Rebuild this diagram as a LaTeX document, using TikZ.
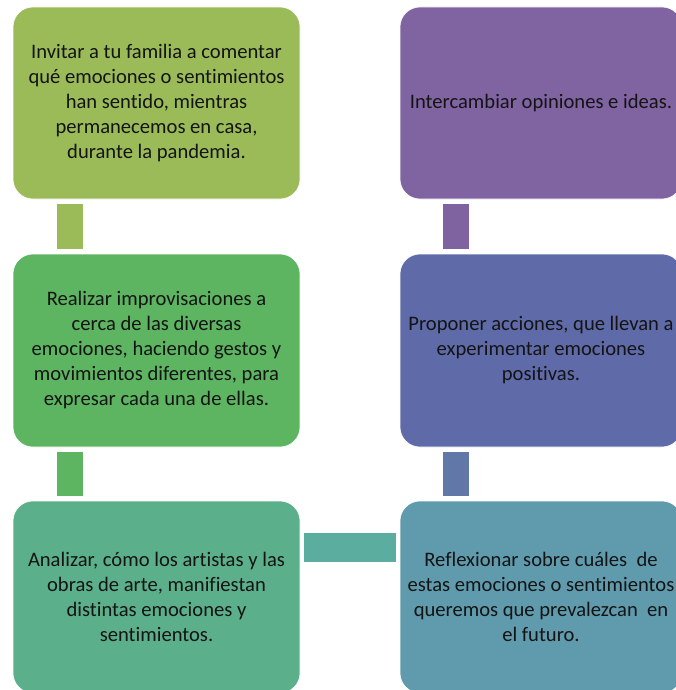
\documentclass[tikz,border=0pt]{standalone}
\usepackage{fontspec}
\setmainfont[Ligatures=CommonOff]{Carlito}
\definecolor{cA}{HTML}{9BBB59}
\definecolor{cB}{HTML}{5DB562}
\definecolor{cC}{HTML}{5BAF8A}
\definecolor{cH}{HTML}{5BADA0}
\definecolor{cD}{HTML}{8064A2}
\definecolor{cDc}{HTML}{7F63A0}
\definecolor{cE}{HTML}{5F6BA8}
\definecolor{cEc}{HTML}{6077A8}
\definecolor{cF}{HTML}{5F9BAD}
\definecolor{txt}{HTML}{141414}
\begin{document}
\begin{tikzpicture}[x=1pt,y=-1pt,
  box/.style={rectangle, rounded corners=20pt, draw=white, line width=0.6pt, align=center,
    minimum width=287pt, inner sep=0pt, text=txt,
    font=\fontsize{20.6}{25}\selectfont},
  rbox/.style={box, minimum width=282pt},
  conn/.style={line width=26pt, shorten <=5pt, shorten >=5pt},
  hconn/.style={line width=29pt, shorten <=4pt, shorten >=4pt}]
\useasboundingbox (0,0) rectangle (676,690);
\begin{scope}
\clip (0,0) rectangle (676,690);
\node[box, fill=cA, minimum height=192pt] (b1) at (156.5,103) {Invitar a tu familia a comentar\\qué emociones o sentimientos\\han sentido, mientras\\permanecemos en casa,\\durante la pandemia.};
\node[box, fill=cB, minimum height=193pt] (b2) at (156.5,350.5) {Realizar improvisaciones a\\cerca de las diversas\\emociones, haciendo gestos y\\movimientos diferentes, para\\expresar cada una de ellas.};
\node[box, fill=cC, minimum height=192pt] (b3) at (156.5,597) {Analizar, cómo los artistas y las\\obras de arte, manifiestan\\distintas emociones y\\sentimientos.};
\node[rbox, fill=cD, minimum height=192pt] (b4) at (541,103) {Intercambiar opiniones e ideas.};
\node[rbox, fill=cE, minimum height=193pt] (b5) at (541,350.5) {Proponer acciones, que llevan a\\experimentar emociones\\positivas.};
\node[rbox, fill=cF, minimum height=192pt] (b6) at (541,597) {Reflexionar sobre cuáles\ \ de\\estas emociones o sentimientos\\queremos que prevalezcan\ \ en\\el futuro.};
\draw[conn, draw=cA] (b1.south -| 69.5,0) -- (b2.north -| 69.5,0);
\draw[conn, draw=cB] (b2.south -| 69.5,0) -- (b3.north -| 69.5,0);
\draw[hconn, draw=cH] (b3.east |- 0,547.5) -- (b6.west |- 0,547.5);
\draw[conn, draw=cEc] (b6.north -| 456,0) -- (b5.south -| 456,0);
\draw[conn, draw=cDc] (b5.north -| 456,0) -- (b4.south -| 456,0);
\end{scope}
\end{tikzpicture}
\end{document}
